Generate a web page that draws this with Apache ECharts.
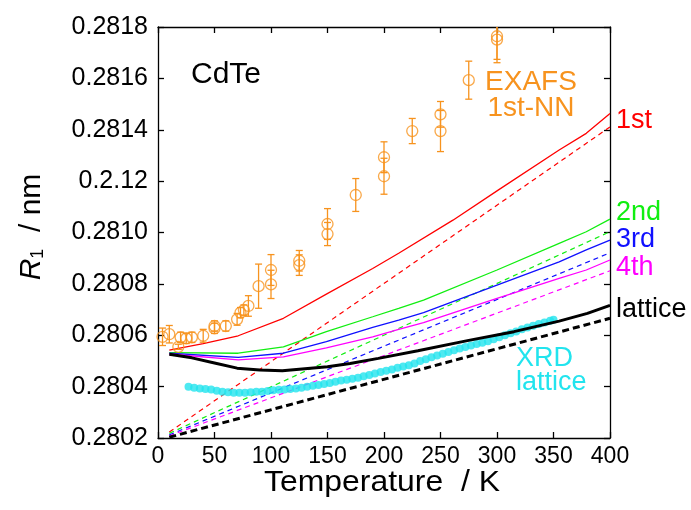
<!DOCTYPE html>
<html>
<head>
<meta charset="utf-8">
<script src="https://cdn.jsdelivr.net/npm/echarts@6/dist/echarts.min.js"></script>
<style>
  html, body { margin: 0; padding: 0; background: #fff; }
  #chart { width: 691px; height: 510px; }
</style>
</head>
<body>
<div id="chart"></div>
<script>
// y axis tick labels (the 0.2812 label is printed as "0.2.12" in the original)
const yMin = 0.2802;
const yMax = 0.2818;
const yStep = 0.0002;
const yTickLabels = ['0.2802', '0.2804', '0.2806', '0.2808', '0.2810', '0.2.12', '0.2814', '0.2816', '0.2818'];

// EXAFS 1st-NN points with error bars
const exafsT = [4, 10, 18, 20, 25, 30, 40, 50, 50, 60, 70, 73, 76, 80, 89, 100, 100, 125, 125, 150, 150, 175, 200, 200, 225, 250, 250, 275, 300, 300];
const exafsR = [0.280594, 0.280604, 0.280555, 0.280592, 0.280588, 0.280592, 0.280598, 0.280627, 0.280636, 0.280636,
  0.280662, 0.280688, 0.280698, 0.280714, 0.280791, 0.280798, 0.280854, 0.280873, 0.280890, 0.280994,
  0.281033, 0.281146, 0.281219, 0.281293, 0.281395, 0.281395, 0.281460, 0.281593, 0.281751, 0.281764];
const exafsErr = [0.000034, 0.000034, 0.00001, 0.00002, 0.00002, 0.00002, 0.000025, 0.00002, 0.00002, 0.00002,
  0.000023, 0.00002, 0.00002, 0.00004, 0.000086, 0.000055, 0.00006, 0.00004, 0.00004, 0.000045,
  0.00006, 0.000064, 0.00007, 0.00006, 0.000049, 0.00008, 0.00005, 0.000074, 0.00009, 0.00009];

// XRD lattice
const xrdT = [27, 32, 37, 42, 47, 52, 57, 62, 67, 72, 77, 82, 87, 92, 97, 102, 107, 112, 117, 122, 127, 132, 137, 142,
  147, 152, 157, 162, 167, 172, 177, 182, 187, 192, 197, 202, 207, 212, 217, 222, 227, 232, 237, 242, 247, 252,
  257, 262, 267, 272, 277, 282, 287, 292, 297, 302, 307, 312, 317, 322, 327, 332, 337, 342, 347, 350];
const xrdR = [0.280400, 0.280396, 0.280393, 0.280391, 0.280389, 0.280384, 0.280380, 0.280378, 0.280376, 0.280376,
  0.280376, 0.280378, 0.280380, 0.280380, 0.280383, 0.280386, 0.280388, 0.280389, 0.280391, 0.280393,
  0.280396, 0.280400, 0.280403, 0.280406, 0.280410, 0.280414, 0.280419, 0.280424, 0.280427, 0.280431,
  0.280435, 0.280440, 0.280445, 0.280451, 0.280457, 0.280462, 0.280467, 0.280473, 0.280478, 0.280483,
  0.280490, 0.280500, 0.280507, 0.280514, 0.280521, 0.280528, 0.280535, 0.280542, 0.280548, 0.280554,
  0.280560, 0.280566, 0.280571, 0.280577, 0.280584, 0.280592, 0.280600, 0.280608, 0.280615, 0.280623,
  0.280630, 0.280637, 0.280644, 0.280650, 0.280656, 0.280660];

// calculated curves (solid)
const firstT = [10, 40, 71, 111, 149, 190, 213, 261, 301, 355, 379, 400];
const firstR = [0.280542, 0.280567, 0.280598, 0.280666, 0.280760, 0.280860, 0.280919, 0.281048, 0.281165, 0.281321, 0.281386, 0.281463];
const secondT = [10, 71, 111, 149, 190, 213, 235, 300, 355, 379, 400];
const secondR = [0.280532, 0.280530, 0.280555, 0.280614, 0.280672, 0.280705, 0.280737, 0.280854, 0.280958, 0.281003, 0.281052];
const thirdT = [10, 71, 111, 149, 190, 213, 235, 300, 355, 379, 400];
const thirdR = [0.280530, 0.280514, 0.280530, 0.280575, 0.280631, 0.280659, 0.280688, 0.280795, 0.280886, 0.280932, 0.280970];
const fourthT = [10, 71, 111, 149, 190, 213, 235, 300, 355, 379, 400];
const fourthR = [0.280527, 0.280504, 0.280516, 0.280551, 0.280594, 0.280623, 0.280649, 0.280744, 0.280821, 0.280854, 0.280893];
const latticeT = [10, 30, 50, 70, 90, 110, 150, 170, 195, 230, 275, 315, 355, 380, 400];
const latticeR = [0.280526, 0.280512, 0.280492, 0.280472, 0.280465, 0.280462, 0.280477, 0.280490, 0.280510, 0.280540, 0.280580, 0.280614, 0.280655, 0.280685, 0.280716];

// straight dashed lines (end points)
const dashT = [10, 400];
const firstDashR = [0.280223, 0.281411];
const secondDashR = [0.280218, 0.281003];
const thirdDashR = [0.280212, 0.280921];
const fourthDashR = [0.280208, 0.280851];
const latticeDashR = [0.280203, 0.280666];

const orange = '#F7931E';
const cyan = '#22E4EE';
const green = '#11EE11';
const blue = '#1010FF';
const magenta = '#FF00FF';

function pairs (xs, ys) {
  return xs.map((x, i) => [x, ys[i]]);
}

function lineSeries (xs, ys, color, width, dashed) {
  return {
    type: 'line',
    data: pairs(xs, ys),
    showSymbol: false,
    symbol: 'none',
    lineStyle: { color: color, width: width, type: dashed ? (width > 2 ? [7, 4] : [5, 4]) : 'solid' },
    z: dashed ? 2 : 3,
    silent: true
  };
}

function label (x, y, text, color, size, opts) {
  return {
    type: 'text', x: x, y: y,
    scaleX: (opts && opts.sx) || 1,
    style: {
      text: text, fill: color,
      font: size + 'px "Liberation Sans"',
      align: (opts && opts.align) || 'left',
      verticalAlign: 'middle'
    }
  };
}

const chart = echarts.init(document.getElementById('chart'));

const axisCommon = {
  type: 'value',
  axisLine: { show: true, onZero: false, lineStyle: { color: '#000', width: 1.3 } },
  axisTick: { show: true, inside: true, length: 6, lineStyle: { color: '#000', width: 1.3 } },
  splitLine: { show: false }
};

chart.setOption({
  animation: false,
  backgroundColor: '#fff',
  textStyle: { fontFamily: 'Liberation Sans' },
  grid: { left: 158, right: 81, top: 27, bottom: 72 },
  xAxis: [
    Object.assign({}, axisCommon, {
      position: 'bottom', min: 0, max: 400, interval: 50,
      axisLabel: { color: '#000', fontSize: 23, margin: 7 }
    }),
    Object.assign({}, axisCommon, {
      position: 'top', min: 0, max: 400, interval: 50,
      axisLabel: { show: false }
    })
  ],
  yAxis: [
    Object.assign({}, axisCommon, {
      position: 'left', min: yMin, max: yMax, interval: yStep,
      axisLabel: {
        color: '#000', fontSize: 25, margin: 10,
        formatter: (v) => yTickLabels[Math.round((v - yMin) / yStep)]
      }
    }),
    Object.assign({}, axisCommon, {
      position: 'right', min: yMin, max: yMax, interval: yStep,
      axisLabel: { show: false }
    })
  ],
  series: [
    lineSeries(dashT, firstDashR, '#FF0000', 1.2, true),
    lineSeries(dashT, secondDashR, green, 1.2, true),
    lineSeries(dashT, thirdDashR, blue, 1.2, true),
    lineSeries(dashT, fourthDashR, magenta, 1.2, true),
    lineSeries(dashT, latticeDashR, '#000000', 3, true),
    lineSeries(firstT, firstR, '#FF0000', 1.3, false),
    lineSeries(secondT, secondR, green, 1.3, false),
    lineSeries(thirdT, thirdR, blue, 1.3, false),
    lineSeries(fourthT, fourthR, magenta, 1.3, false),
    {
      type: 'scatter',
      data: pairs(xrdT, xrdR),
      symbol: 'circle',
      symbolSize: 8,
      itemStyle: { color: cyan },
      z: 4,
      silent: true
    },
    Object.assign(lineSeries(latticeT, latticeR, '#000000', 3, false), { z: 5 }),
    {
      type: 'custom',
      clip: true,
      z: 6,
      silent: true,
      data: exafsT.map((t, i) => [t, exafsR[i] - exafsErr[i], exafsR[i] + exafsErr[i]]),
      encode: { x: 0, y: [1, 2] },
      renderItem: function (params, api) {
        const lo = api.coord([api.value(0), api.value(1)]);
        const hi = api.coord([api.value(0), api.value(2)]);
        const w = 3.5;
        const st = { stroke: orange, lineWidth: 1.3 };
        return {
          type: 'group',
          children: [
            { type: 'line', shape: { x1: lo[0], y1: lo[1], x2: hi[0], y2: hi[1] }, style: st },
            { type: 'line', shape: { x1: lo[0] - w, y1: lo[1], x2: lo[0] + w, y2: lo[1] }, style: st },
            { type: 'line', shape: { x1: hi[0] - w, y1: hi[1], x2: hi[0] + w, y2: hi[1] }, style: st }
          ]
        };
      }
    },
    {
      type: 'scatter',
      data: pairs(exafsT, exafsR),
      symbol: 'circle',
      symbolSize: 11,
      itemStyle: { color: 'rgba(0,0,0,0)', borderColor: orange, borderWidth: 1.3 },
      z: 7,
      silent: true
    }
  ],
  graphic: [
    {
      type: 'text', x: 32, y: 227, rotation: Math.PI / 2,
      style: {
        text: '{r|R}{s|1}{t|  / nm}',
        align: 'center', verticalAlign: 'middle', fill: '#000',
        rich: {
          r: { fontSize: 30, fontStyle: 'italic', fontFamily: 'Liberation Sans' },
          s: { fontSize: 18, verticalAlign: 'bottom', fontFamily: 'Liberation Sans' },
          t: { fontSize: 30, fontFamily: 'Liberation Sans' }
        }
      }
    },
    label(382, 483, 'Temperature  / K', '#000', 29, { align: 'center', sx: 1.1 }),
    label(191, 75, 'CdTe', '#000', 30),
    label(531, 82, 'EXAFS', orange, 28, { align: 'center' }),
    label(531, 108, '1st-NN', orange, 28, { align: 'center' }),
    label(616, 121, '1st', '#FF0000', 27),
    label(616, 213, '2nd', green, 27),
    label(616, 240, '3rd', blue, 27),
    label(616, 268, '4th', magenta, 27),
    label(616, 310, 'lattice', '#000', 27),
    label(516, 359, 'XRD', cyan, 27),
    label(516, 383, 'lattice', cyan, 27)
  ]
});
</script>
</body>
</html>
